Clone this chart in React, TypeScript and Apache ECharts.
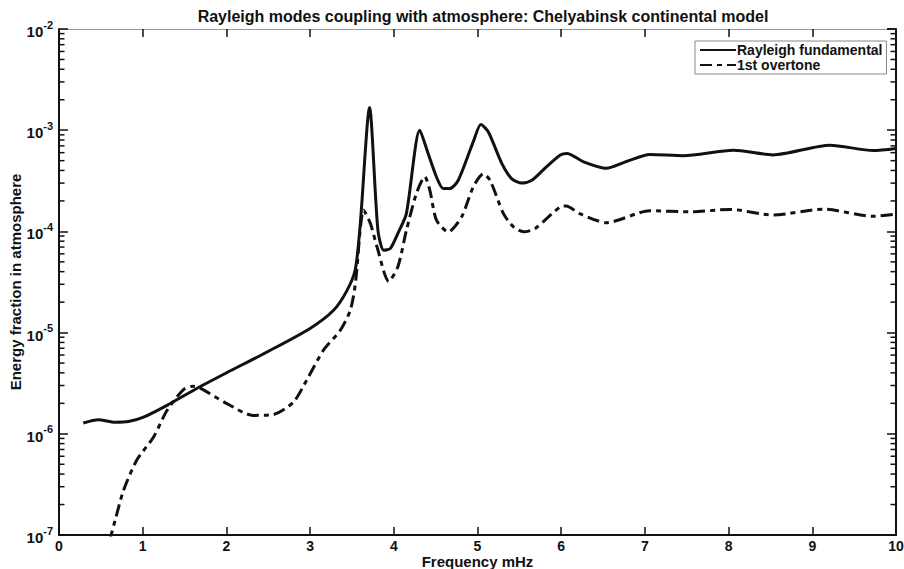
import React, { useEffect, useRef } from "react";
import * as echarts from "echarts";

const TITLE = "Rayleigh modes coupling with atmosphere: Chelyabinsk continental model";
const X_NAME = "Frequency mHz";
const Y_NAME = "Energy fraction in atmosphere";
const SERIES_NAMES = ["Rayleigh fundamental", "1st overtone"];

const fundFreq = [0.29, 0.47, 0.67, 0.83, 1.01, 1.29, 1.64, 2.0, 2.48, 3.0, 3.28, 3.44, 3.54, 3.6, 3.71, 3.81, 3.88, 3.96, 4.05, 4.15, 4.31, 4.41, 4.51, 4.59, 4.67, 4.77, 4.95, 5.04, 5.13, 5.29, 5.41, 5.53, 5.65, 5.83, 5.99, 6.07, 6.26, 6.54, 6.78, 7.06, 7.46, 8.06, 8.53, 9.21, 9.73, 10.0];
const fundVal = [1.28e-6, 1.38e-6, 1.3e-6, 1.32e-6, 1.46e-6, 1.91e-6, 2.79e-6, 4.0e-6, 6.4e-6, 1.1e-5, 1.66e-5, 2.6e-5, 4.2e-5, 1.2e-4, 1.68e-3, 1.03e-4, 6.5e-5, 6.8e-5, 9.6e-5, 1.5e-4, 1.0e-3, 5.9e-4, 3.45e-4, 2.65e-4, 2.65e-4, 3.2e-4, 7.7e-4, 1.14e-3, 9.6e-4, 4.7e-4, 3.3e-4, 3.0e-4, 3.2e-4, 4.4e-4, 5.7e-4, 5.9e-4, 4.9e-4, 4.2e-4, 4.9e-4, 5.76e-4, 5.6e-4, 6.35e-4, 5.7e-4, 7.1e-4, 6.3e-4, 6.6e-4];

const overFreq = [0.6, 0.67, 0.77, 0.93, 1.13, 1.29, 1.49, 1.6, 1.68, 2.0, 2.32, 2.56, 2.8, 2.96, 3.16, 3.36, 3.48, 3.54, 3.64, 3.72, 3.8, 3.94, 4.05, 4.15, 4.27, 4.37, 4.43, 4.51, 4.65, 4.81, 4.95, 5.07, 5.15, 5.31, 5.43, 5.55, 5.69, 5.99, 6.06, 6.22, 6.54, 7.06, 7.54, 8.02, 8.53, 9.13, 9.73, 10.0];
const overVal = [8.5e-8, 1.39e-7, 2.75e-7, 5.5e-7, 9.3e-7, 1.7e-6, 2.75e-6, 2.95e-6, 2.85e-6, 2.0e-6, 1.52e-6, 1.55e-6, 2.05e-6, 3.4e-6, 6.7e-6, 1.05e-5, 1.66e-5, 3.0e-5, 1.62e-4, 1.2e-4, 7.0e-5, 3.2e-5, 4.5e-5, 1.02e-4, 2.37e-4, 3.47e-4, 2.56e-4, 1.29e-4, 9.9e-5, 1.39e-4, 2.76e-4, 3.7e-4, 3.2e-4, 1.5e-4, 1.11e-4, 9.9e-5, 1.07e-4, 1.75e-4, 1.78e-4, 1.5e-4, 1.22e-4, 1.6e-4, 1.56e-4, 1.65e-4, 1.45e-4, 1.66e-4, 1.41e-4, 1.48e-4];

const decadeExps = [-7, -6, -5, -4, -3];
const minorMultipliers = [2, 3, 4, 5, 6, 7, 8, 9];

const FONT = "'Liberation Sans', Arial, Helvetica, sans-serif";

export default function App() {
  const ref = useRef<HTMLDivElement>(null);
  useEffect(() => {
    if (!ref.current) return;
    const chart = echarts.init(ref.current, null, { renderer: "svg" });
    const fund = fundFreq.map((f, i) => [f, fundVal[i]]);
    const over = overFreq.map((f, i) => [f, overVal[i]]);
    const labelFmt = (v: number) => `{b|10}{s|${Math.round(Math.log10(v))}}`;

    const baseOption: any = {
      animation: false,
      backgroundColor: "#ffffff",
      textStyle: { fontFamily: FONT },
      title: {
        text: TITLE,
        left: 478,
        textAlign: "center",
        top: 3,
        textStyle: { fontSize: 16, fontWeight: "bold", color: "#111", fontFamily: FONT },
      },
      legend: {
        data: SERIES_NAMES,
        orient: "vertical",
        left: 695,
        top: 41,
        itemWidth: 36,
        itemHeight: 12,
        itemGap: 1,
        padding: [2, 4, 2, 4],
        borderColor: "#888",
        borderWidth: 1,
        itemStyle: { opacity: 0 },
        textStyle: { fontSize: 14, fontWeight: "bold", color: "#111", fontFamily: FONT, padding: [0, 0, 0, -4] },
      },
      grid: { left: 59, right: 8, top: 29, bottom: 34, outerBoundsMode: "none", containLabel: false },
      xAxis: [
        {
          type: "value",
          min: 0,
          max: 10,
          interval: 1,
          name: X_NAME,
          nameLocation: "middle",
          nameGap: 19,
          nameMoveOverlap: false,
          nameTextStyle: { fontSize: 15, fontWeight: "bold", color: "#111", fontFamily: FONT },
          axisLine: { onZero: false, lineStyle: { color: "#111", width: 2 } },
          axisTick: { inside: true, length: 8, lineStyle: { color: "#111", width: 1.5 } },
          axisLabel: { fontSize: 14, fontWeight: "bold", color: "#111", margin: 4, fontFamily: FONT },
          splitLine: { show: false },
        },
        {
          type: "value",
          position: "top",
          min: 0,
          max: 10,
          interval: 1,
          axisLine: { onZero: false, lineStyle: { color: "#999", width: 1 } },
          axisTick: { inside: true, length: 8, lineStyle: { color: "#111", width: 1.5 } },
          axisLabel: { show: false },
          splitLine: { show: false },
        },
      ],
      yAxis: [
        {
          type: "log",
          logBase: 10,
          min: 1e-7,
          max: 1e-2,
          name: Y_NAME,
          nameLocation: "middle",
          nameGap: 36,
          nameMoveOverlap: false,
          nameTextStyle: { fontSize: 15, fontWeight: "bold", color: "#111", fontFamily: FONT },
          axisLine: { onZero: false, lineStyle: { color: "#111", width: 2 } },
          axisTick: { inside: true, length: 9, lineStyle: { color: "#111", width: 1.5 } },
          axisLabel: {
            formatter: labelFmt,
            margin: 6,
            rich: {
              b: { fontSize: 15, fontWeight: "bold", color: "#111", fontFamily: FONT, lineHeight: 20, verticalAlign: "bottom" },
              s: { fontSize: 11, fontWeight: "bold", color: "#111", fontFamily: FONT, lineHeight: 20, verticalAlign: "top" },
            },
          },
          splitLine: { show: false },
        },
        {
          type: "log",
          logBase: 10,
          min: 1e-7,
          max: 1e-2,
          position: "right",
          axisLine: { onZero: false, lineStyle: { color: "#111", width: 2 } },
          axisTick: { inside: true, length: 9, lineStyle: { color: "#111", width: 1.5 } },
          axisLabel: { show: false },
          splitLine: { show: false },
        },
      ],
      series: [
        {
          name: SERIES_NAMES[0],
          type: "line",
          data: fund,
          showSymbol: false,
          symbol: "none",
          smooth: 0.25,
          lineStyle: { color: "#111", width: 3, type: "solid" },
          itemStyle: { color: "#111" },
          clip: true,
          z: 3,
        },
        {
          name: SERIES_NAMES[1],
          type: "line",
          data: over,
          showSymbol: false,
          symbol: "none",
          smooth: 0.25,
          lineStyle: { color: "#111", width: 3, type: [12, 5, 5, 5] },
          itemStyle: { color: "#111" },
          clip: true,
          z: 2,
        },
      ],
    };
    chart.setOption(baseOption);

    // minor ticks on the log axis at 2..9 x 10^e, placed through the axis scale
    const graphics: any[] = [];
    decadeExps.forEach((e) =>
      minorMultipliers.forEach((k) => {
        const v = k * Math.pow(10, e);
        const l = chart.convertToPixel({ seriesIndex: 0 }, [0, v]) as number[];
        const r = chart.convertToPixel({ seriesIndex: 0 }, [10, v]) as number[];
        if (!l || !r) return;
        graphics.push({
          type: "polyline",
          silent: true,
          z: 100,
          shape: { points: [[l[0], l[1]], [l[0] + 5.5, l[1]]] },
          style: { stroke: "#111", lineWidth: 1.5, fill: null },
        });
        graphics.push({
          type: "polyline",
          silent: true,
          z: 100,
          shape: { points: [[r[0], r[1]], [r[0] - 5.5, r[1]]] },
          style: { stroke: "#111", lineWidth: 1.5, fill: null },
        });
      })
    );
    chart.setOption({ graphic: graphics });
    return () => chart.dispose();
  }, []);
  return <div ref={ref} style={{ width: 904, height: 569, position: "absolute", left: 0, top: 0 }} />;
}
